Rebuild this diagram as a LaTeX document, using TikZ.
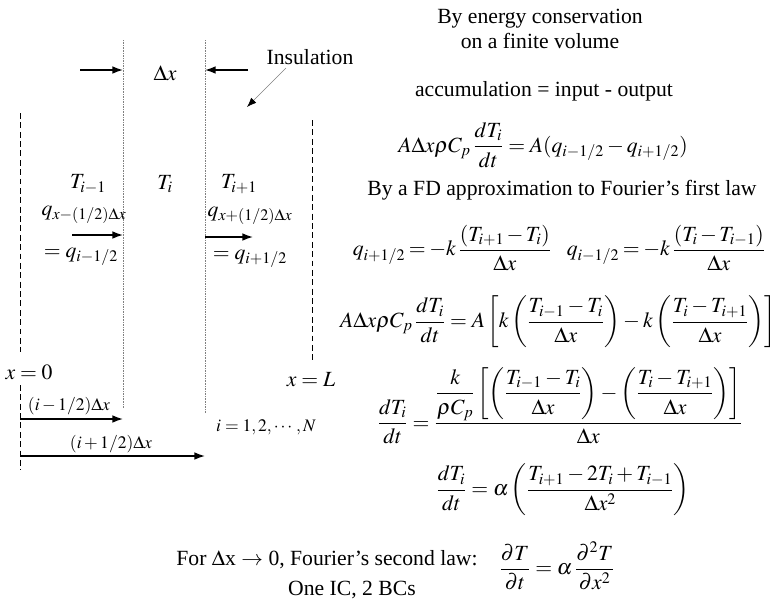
\documentclass[tikz,border=0pt]{standalone}
\usepackage{amsmath}
\usepackage{mathptmx}
\usepackage{fontspec}
\setmainfont{Liberation Serif}
\usetikzlibrary{arrows.meta}

\begin{document}
\begin{tikzpicture}[
    x=0.03cm, y=-0.03cm,
    >={Latex[length=9pt,width=6.5pt]},
    every node/.style={inner sep=0pt, font=\fontsize{18.5}{22}\selectfont},
    small/.style={font=\fontsize{15}{17}\selectfont},
    tight/.style={execute at begin node={\medmuskip=2mu\thickmuskip=3mu}},
    wall/.style={dash pattern=on 5pt off 3pt, line width=0.6pt},
    cell/.style={densely dotted, gray, line width=0.4pt},
    flux/.style={->, line width=1.3pt}
]
  \useasboundingbox (0,0) rectangle (777,605);

  % walls and cell faces
  \coordinate (w0a) at (20,113);  \coordinate (w0b) at (20,352);
  \coordinate (w0c) at (20,385);  \coordinate (w0d) at (20,470);
  \coordinate (wLa) at (312,120); \coordinate (wLb) at (312,362);
  \coordinate (fa) at (123,40);   \coordinate (fb) at (123,408);
  \coordinate (ga) at (205,40);   \coordinate (gb) at (205,413);
  \draw[wall] (w0a) -- (w0b);
  \draw[wall] (w0c) -- (w0d);
  \draw[wall] (wLa) -- (wLb);
  \draw[cell] (fa) -- (fb);
  \draw[cell] (ga) -- (gb);

  % cell width
  \node (dx) at (165,73) {$\Delta x$};
  \coordinate (dxl) at (80,70);  \coordinate (dxl') at (123,70);
  \coordinate (dxr) at (248,70); \coordinate (dxr') at (205,70);
  \draw[flux] (dxl) -- (dxl');
  \draw[flux] (dxr) -- (dxr');

  % insulation
  \node (ins) at (310,57) {Insulation};
  \coordinate (insa) at (286,68);
  \coordinate (insb) at (247,107);
  \draw[gray, line width=0.5pt, -{Latex[black,length=8pt,width=6pt]}] (insa) -- (insb);

  % temperatures and fluxes
  \node (Tm) at (88,184)  {$T_{i-1}$};
  \node (Ti) at (165,184) {$T_i$};
  \node (Tp) at (239,184) {$T_{i+1}$};
  \node (qm)  at (84,215) {$q_{x-(1/2)\Delta x}$};
  \node (qme) at (81,257) {$=q_{i-1/2}$};
  \node (qp)  at (250,216) {$q_{x+(1/2)\Delta x}$};
  \node (qpe) at (250,259) {$=q_{i+1/2}$};
  \coordinate (qma) at (72,235);  \coordinate (qmb) at (123,235);
  \coordinate (qpa) at (205,237); \coordinate (qpb) at (253,237);
  \draw[flux] (qma) -- (qmb);
  \draw[flux] (qpa) -- (qpb);

  % boundaries and positions
  \node (x0) at (29,372)  {$x=0$};
  \node (xL) at (311,380) {$x=L$};
  \node[small] (hm)  at (69,406)  {$(i-1/2)\Delta x$};
  \node[small] (hp)  at (111,444) {$(i+1/2)\Delta x$};
  \node[small] (idx) at (266,427) {$i=1,2,\cdots,N$};
  \coordinate (hma) at (20,419); \coordinate (hmb) at (123,419);
  \coordinate (hpa) at (20,456); \coordinate (hpb) at (205,456);
  \draw[flux] (hma) -- (hmb);
  \draw[flux] (hpa) -- (hpb);

  % balance
  \node[align=center] (title) at (540,29) {By energy conservation\\on a finite volume};
  \node (acc) at (544,91) {accumulation = input - output};
  \node (eqa) at (543,145) {$A\Delta x\rho C_p\,\dfrac{dT_i}{dt}=A(q_{i-1/2}-q_{i+1/2})$};
  \node (fd) at (562,190) {By a FD approximation to Fourier's first law};
  \node[tight] (eqb) at (452,248) {$q_{i+1/2}=-k\,\dfrac{(T_{i+1}-T_i)}{\Delta x}$};
  \node[tight] (eqb') at (666,248) {$q_{i-1/2}=-k\,\dfrac{(T_i-T_{i-1})}{\Delta x}$};
  \node (eqc) at (558,322) {$A\Delta x\rho C_p\,\dfrac{dT_i}{dt}=A\left[k\left(\dfrac{T_{i-1}-T_i}{\Delta x}\right)-k\left(\dfrac{T_i-T_{i+1}}{\Delta x}\right)\right]$};
  \node (eqd) at (560,406) {$\dfrac{dT_i}{dt}=\dfrac{\dfrac{k}{\rho C_p}\left[\left(\dfrac{T_{i-1}-T_i}{\Delta x}\right)-\left(\dfrac{T_i-T_{i+1}}{\Delta x}\right)\right]}{\Delta x}$};
  \node (eqe) at (563,490) {$\dfrac{dT_i}{dt}=\alpha\left(\dfrac{T_{i+1}-2T_i+T_{i-1}}{\Delta x^2}\right)$};

  % continuum limit
  \node (law) at (327,560) {For $\Delta$x $\rightarrow$ 0, Fourier's second law:};
  \node (ic)  at (352,590) {One IC, 2 BCs};
  \node (pde) at (557,566) {$\dfrac{\partial T}{\partial t}=\alpha\,\dfrac{\partial^2T}{\partial x^2}$};
\end{tikzpicture}
\end{document}
